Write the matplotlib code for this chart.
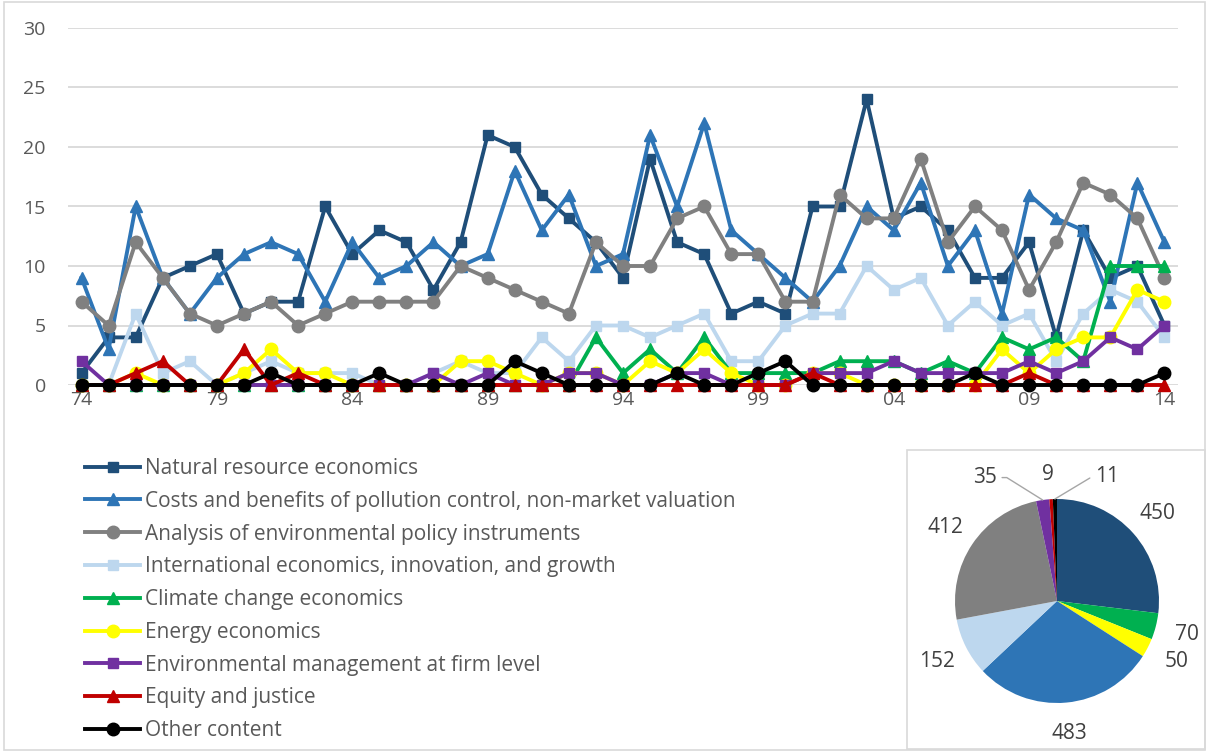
import matplotlib
matplotlib.use('Agg')
import matplotlib.pyplot as plt
import numpy as np
from matplotlib.patches import Rectangle

plt.rcParams['font.family'] = ['Open Sans', 'DejaVu Sans']

# yearly article counts, 1974 - 2014
years = list(range(1974, 2015))
tick_years = [1974, 1979, 1984, 1989, 1994, 1999, 2004, 2009, 2014]
tick_labels = ['74', '79', '84', '89', '94', '99', '04', '09', '14']

natural = [1, 4, 4, 9, 10, 11, 6, 7, 7, 15, 11, 13, 12, 8, 12, 21, 20, 16, 14, 12, 9,
           19, 12, 11, 6, 7, 6, 15, 15, 24, 14, 15, 13, 9, 9, 12, 4, 13, 9, 10, 5]
costs = [9, 3, 15, 9, 6, 9, 11, 12, 11, 7, 12, 9, 10, 12, 10, 11, 18, 13, 16, 10, 11,
         21, 15, 22, 13, 11, 9, 7, 10, 15, 13, 17, 10, 13, 6, 16, 14, 13, 7, 17, 12]
policy = [7, 5, 12, 9, 6, 5, 6, 7, 5, 6, 7, 7, 7, 7, 10, 9, 8, 7, 6, 12, 10,
          10, 14, 15, 11, 11, 7, 7, 16, 14, 14, 19, 12, 15, 13, 8, 12, 17, 16, 14, 9]
international = [0, 0, 6, 1, 2, 0, 1, 2, 1, 1, 1, 0, 0, 1, 2, 1, 1, 4, 2, 5, 5,
                 4, 5, 6, 2, 2, 5, 6, 6, 10, 8, 9, 5, 7, 5, 6, 2, 6, 8, 7, 4]
climate = [0, 0, 0, 0, 0, 0, 0, 0, 0, 0, 0, 0, 0, 0, 0, 0, 0, 0, 0, 4, 1,
           3, 1, 4, 1, 1, 1, 1, 2, 2, 2, 1, 2, 1, 4, 3, 4, 2, 10, 10, 10]
energy = [0, 0, 1, 0, 0, 0, 1, 3, 1, 1, 0, 0, 0, 0, 2, 2, 1, 0, 1, 1, 0,
          2, 1, 3, 1, 0, 0, 1, 1, 0, 0, 0, 0, 0, 3, 1, 3, 4, 4, 8, 7]
firm = [2, 0, 0, 0, 0, 0, 0, 0, 0, 0, 0, 0, 0, 1, 0, 1, 0, 0, 1, 1, 0,
        0, 1, 1, 0, 0, 0, 1, 1, 1, 2, 1, 1, 1, 1, 2, 1, 2, 4, 3, 5]
equity = [0, 0, 1, 2, 0, 0, 3, 0, 1, 0, 0, 0, 0, 0, 0, 0, 0, 0, 0, 0, 0,
          0, 0, 0, 0, 0, 0, 1, 0, 0, 0, 0, 0, 0, 0, 1, 0, 0, 0, 0, 0]
other = [0, 0, 0, 0, 0, 0, 0, 1, 0, 0, 0, 1, 0, 0, 0, 0, 2, 1, 0, 0, 0,
         0, 1, 0, 0, 1, 2, 0, 0, 0, 0, 0, 0, 1, 0, 0, 0, 0, 0, 0, 1]

names = ['Natural resource economics',
         'Costs and benefits of pollution control, non-market valuation',
         'Analysis of environmental policy instruments',
         'International economics, innovation, and growth',
         'Climate change economics',
         'Energy economics',
         'Environmental management at firm level',
         'Equity and justice',
         'Other content']
series = [natural, costs, policy, international, climate, energy, firm, equity, other]
colors = ['#1F4E79', '#2E75B6', '#808080', '#BDD7EE', '#00B050',
          '#FFFF00', '#7030A0', '#C00000', '#000000']
markers = ['s', '^', 'o', 's', '^', 'o', 's', '^', 'o']
msizes = [7.5, 9, 9, 7.5, 9, 9, 7.5, 9, 9]

# totals for the pie (clockwise from the top)
pie_values = [450, 70, 50, 483, 152, 412, 35, 9, 11]
pie_colors = ['#1F4E79', '#00B050', '#FFFF00', '#2E75B6', '#BDD7EE',
              '#808080', '#7030A0', '#C00000', '#000000']

text_col = '#595959'
W, H = 1208, 751
fig = plt.figure(figsize=(W / 100, H / 100), dpi=100)

# borders
fig.patches.append(Rectangle((4 / W, 1 / H), 1201 / W, 748 / H, transform=fig.transFigure,
                             fill=False, edgecolor='#D9D9D9', lw=1.2))
fig.patches.append(Rectangle((907 / W, 2 / H), 298 / W, 299 / H, transform=fig.transFigure,
                             fill=False, edgecolor='#D9D9D9', lw=1.2))

ax = fig.add_axes([68 / W, 366 / H, 1110 / W, 357 / H])
handles = []
for vals, name, c, m, ms in zip(series, names, colors, markers, msizes):
    h, = ax.plot(years, vals, color=c, marker=m, markersize=ms, lw=2.8,
                 label=name, clip_on=False)
    handles.append(h)

ax.set_xlim(1973.5, 2014.5)
ax.set_ylim(0, 30)
ax.set_yticks(range(0, 31, 5))
ax.set_xticks(tick_years)
ax.set_xticklabels(tick_labels)
ax.yaxis.grid(True, color='#D9D9D9', lw=1.3)
ax.set_axisbelow(True)
for s in ax.spines.values():
    s.set_visible(False)
ax.tick_params(length=0, labelsize=14, labelcolor=text_col)
ax.tick_params(axis='y', pad=16)
ax.tick_params(axis='x', pad=4)

fig.legend(handles=handles, loc='upper left', bbox_to_anchor=(85 / W, 1 - 458 / H),
           frameon=False, fontsize=15, labelcolor=text_col, handlelength=2.65,
           handletextpad=0.25, labelspacing=0.565, borderpad=0, borderaxespad=0)

# pie
cx, cy, r = 1057, 601, 102
pax = fig.add_axes([(cx - r) / W, (H - cy - r) / H, 2 * r / W, 2 * r / H])
wedges, _ = pax.pie(pie_values, colors=pie_colors, startangle=90, counterclock=False,
                    radius=1)
pax.set_xlim(-1, 1)
pax.set_ylim(-1, 1)

lab = dict(fontsize=15, color='#404040', ha='center', va='center')
total = sum(pie_values)
cum = np.cumsum([0] + pie_values)
for i, v in enumerate(pie_values):
    mid = np.deg2rad(90 - 360 * (cum[i] + v / 2) / total)
    ex, ey = np.cos(mid), np.sin(mid)
    if v >= 50:
        pax.text(1.32 * ex, 1.3 * ey, str(v), **lab)
    elif v == 35:
        pax.annotate(str(v), xy=(ex, ey), xytext=(-0.71, 1.21), **lab,
                     arrowprops=dict(arrowstyle='-', color='#A6A6A6', lw=1,
                                     shrinkA=2, shrinkB=0,
                                     connectionstyle='angle,angleA=0,angleB=148,rad=0'))
    elif v == 9:
        pax.text(-0.09, 1.24, str(v), **lab)
    else:
        pax.annotate(str(v), xy=(ex, ey), xytext=(0.49, 1.22), **lab,
                     arrowprops=dict(arrowstyle='-', color='#A6A6A6', lw=1,
                                     shrinkA=2, shrinkB=0,
                                     connectionstyle='angle,angleA=180,angleB=31,rad=0'))

fig.savefig('out.png', dpi=100)
